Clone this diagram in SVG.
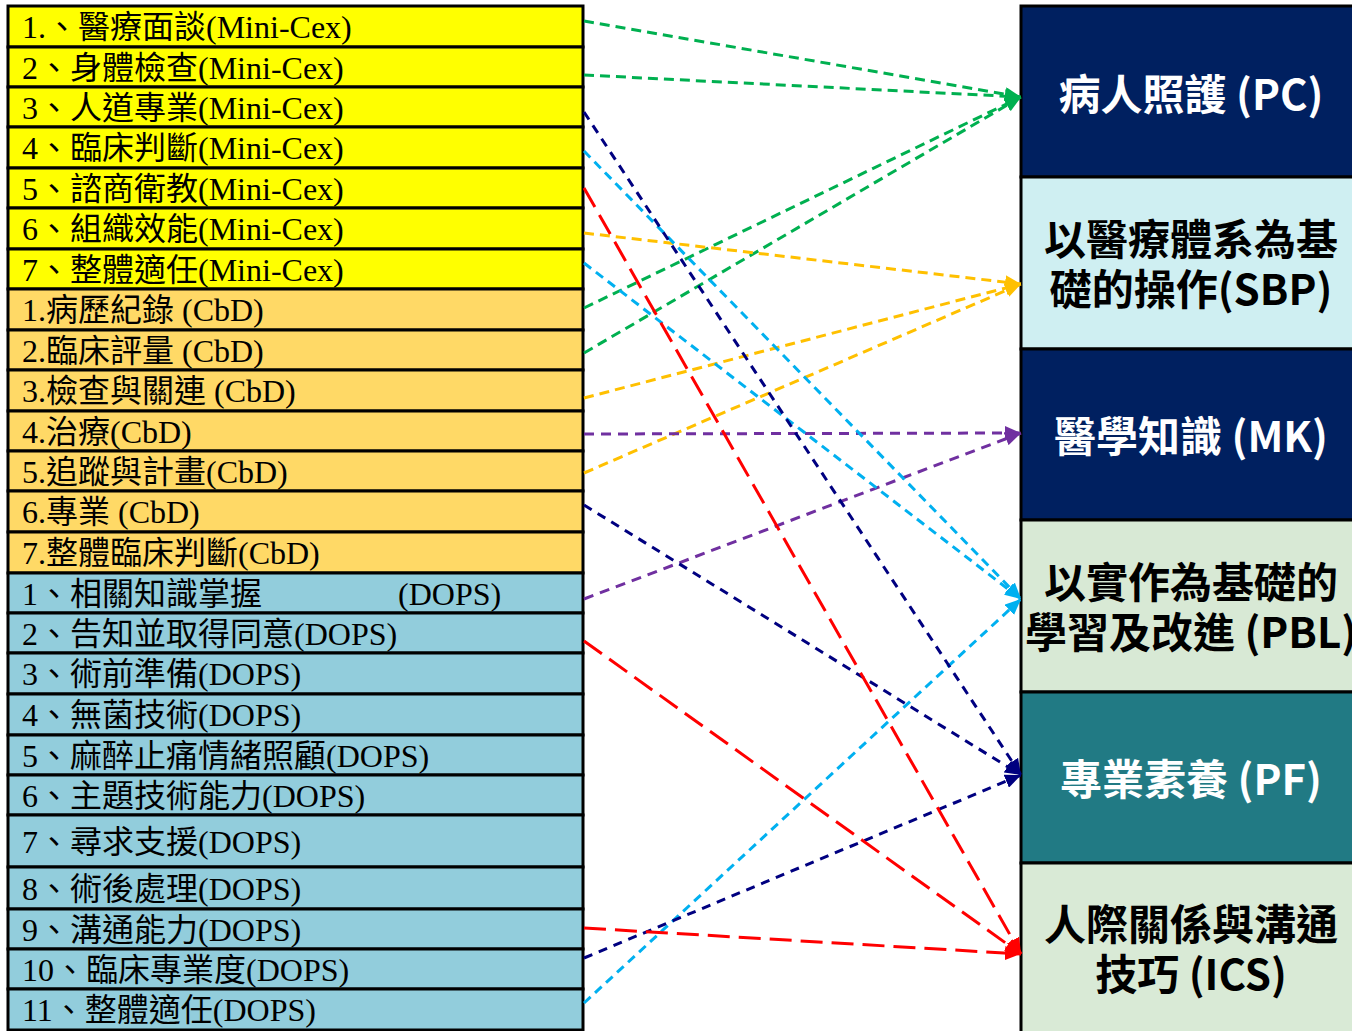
<svg xmlns="http://www.w3.org/2000/svg" width="1352" height="1031" viewBox="0 0 1352 1031">
<defs>
<style>
.row{stroke:#000;stroke-width:3}
.y{fill:#FFFF00}.o{fill:#FFD966}.b{fill:#92CDDC}
.lt{font-family:"Liberation Serif","Noto Sans CJK TC",serif;font-size:32px;fill:#000}
.box{stroke:#000;stroke-width:3}
.rt{font-family:"Noto Sans CJK TC","Noto Sans",sans-serif;font-weight:bold;font-size:42px;text-anchor:middle}
.w{fill:#fff}.k{fill:#000}
.c{fill:none;stroke-width:3}
.g{stroke:#00B050;stroke-dasharray:10 6}
.or{stroke:#FFC000;stroke-dasharray:10 6}
.p{stroke:#7030A0;stroke-dasharray:10 7}
.lb{stroke:#00B0F0;stroke-dasharray:9 6}
.n{stroke:#000080;stroke-dasharray:9 7}
.r{stroke:#FF0000;stroke-dasharray:22 9}
</style>
<marker id="mg" viewBox="0 0 16 14" markerWidth="16" markerHeight="14" refX="16" refY="7" orient="auto" markerUnits="userSpaceOnUse"><path d="M0,0 L16,7 L0,14 z" fill="#00B050"/></marker>
<marker id="mo" viewBox="0 0 16 14" markerWidth="16" markerHeight="14" refX="16" refY="7" orient="auto" markerUnits="userSpaceOnUse"><path d="M0,0 L16,7 L0,14 z" fill="#FFC000"/></marker>
<marker id="mp" viewBox="0 0 16 14" markerWidth="16" markerHeight="14" refX="16" refY="7" orient="auto" markerUnits="userSpaceOnUse"><path d="M0,0 L16,7 L0,14 z" fill="#7030A0"/></marker>
<marker id="mlb" viewBox="0 0 16 14" markerWidth="16" markerHeight="14" refX="16" refY="7" orient="auto" markerUnits="userSpaceOnUse"><path d="M0,0 L16,7 L0,14 z" fill="#00B0F0"/></marker>
<marker id="mn" viewBox="0 0 16 14" markerWidth="16" markerHeight="14" refX="16" refY="7" orient="auto" markerUnits="userSpaceOnUse"><path d="M0,0 L16,7 L0,14 z" fill="#000080"/></marker>
<marker id="mr" viewBox="0 0 16 14" markerWidth="16" markerHeight="14" refX="16" refY="7" orient="auto" markerUnits="userSpaceOnUse"><path d="M0,0 L16,7 L0,14 z" fill="#FF0000"/></marker>
</defs>
<rect width="1352" height="1031" fill="#fff"/>

<g id="minicex">
<g id="m1"><rect class="row y" x="8" y="6" width="575" height="41"/><text class="lt" x="22" y="38">1.、醫療面談(Mini-Cex)</text></g>
<g id="m2"><rect class="row y" x="8" y="47" width="575" height="40"/><text class="lt" x="22" y="79">2、身體檢查(Mini-Cex)</text></g>
<g id="m3"><rect class="row y" x="8" y="87" width="575" height="40"/><text class="lt" x="22" y="119">3、人道專業(Mini-Cex)</text></g>
<g id="m4"><rect class="row y" x="8" y="127" width="575" height="41"/><text class="lt" x="22" y="159">4、臨床判斷(Mini-Cex)</text></g>
<g id="m5"><rect class="row y" x="8" y="168" width="575" height="40"/><text class="lt" x="22" y="200">5、諮商衛教(Mini-Cex)</text></g>
<g id="m6"><rect class="row y" x="8" y="208" width="575" height="41"/><text class="lt" x="22" y="240">6、組織效能(Mini-Cex)</text></g>
<g id="m7"><rect class="row y" x="8" y="249" width="575" height="40"/><text class="lt" x="22" y="281">7、整體適任(Mini-Cex)</text></g>
</g>
<g id="cbd">
<g id="c1"><rect class="row o" x="8" y="289" width="575" height="41"/><text class="lt" x="22" y="321">1.病歷紀錄 (CbD)</text></g>
<g id="c2"><rect class="row o" x="8" y="330" width="575" height="40"/><text class="lt" x="22" y="362">2.臨床評量 (CbD)</text></g>
<g id="c3"><rect class="row o" x="8" y="370" width="575" height="41"/><text class="lt" x="22" y="402">3.檢查與關連 (CbD)</text></g>
<g id="c4"><rect class="row o" x="8" y="411" width="575" height="40"/><text class="lt" x="22" y="443">4.治療(CbD)</text></g>
<g id="c5"><rect class="row o" x="8" y="451" width="575" height="40"/><text class="lt" x="22" y="483">5.追蹤與計畫(CbD)</text></g>
<g id="c6"><rect class="row o" x="8" y="491" width="575" height="41"/><text class="lt" x="22" y="523">6.專業 (CbD)</text></g>
<g id="c7"><rect class="row o" x="8" y="532" width="575" height="41"/><text class="lt" x="22" y="564">7.整體臨床判斷(CbD)</text></g>
</g>
<g id="dops">
<g id="d1"><rect class="row b" x="8" y="573" width="575" height="40"/><text class="lt" x="22" y="605">1、相關知識掌握<tspan x="398">(DOPS)</tspan></text></g>
<g id="d2"><rect class="row b" x="8" y="613" width="575" height="40"/><text class="lt" x="22" y="645">2、告知並取得同意(DOPS)</text></g>
<g id="d3"><rect class="row b" x="8" y="653" width="575" height="41"/><text class="lt" x="22" y="685">3、術前準備(DOPS)</text></g>
<g id="d4"><rect class="row b" x="8" y="694" width="575" height="41"/><text class="lt" x="22" y="726">4、無菌技術(DOPS)</text></g>
<g id="d5"><rect class="row b" x="8" y="735" width="575" height="40"/><text class="lt" x="22" y="767">5、麻醉止痛情緒照顧(DOPS)</text></g>
<g id="d6"><rect class="row b" x="8" y="775" width="575" height="40"/><text class="lt" x="22" y="807">6、主題技術能力(DOPS)</text></g>
<g id="d7"><rect class="row b" x="8" y="815" width="575" height="52"/><text class="lt" x="22" y="853">7、尋求支援(DOPS)</text></g>
<g id="d8"><rect class="row b" x="8" y="867" width="575" height="42"/><text class="lt" x="22" y="900">8、術後處理(DOPS)</text></g>
<g id="d9"><rect class="row b" x="8" y="909" width="575" height="40"/><text class="lt" x="22" y="941">9、溝通能力(DOPS)</text></g>
<g id="d10"><rect class="row b" x="8" y="949" width="575" height="40"/><text class="lt" x="22" y="981">10、臨床專業度(DOPS)</text></g>
<g id="d11"><rect class="row b" x="8" y="989" width="575" height="41"/><text class="lt" x="22" y="1021">11、整體適任(DOPS)</text></g>
</g>

<g id="competencies">
<g id="pc"><rect class="box" x="1021" y="6" width="340" height="171" fill="#002060"/><text class="rt w" x="1191" y="110">病人照護 (PC)</text></g>
<g id="sbp"><rect class="box" x="1021" y="177" width="340" height="172" fill="#CFEFF2"/><text class="rt k" x="1191" y="255">以醫療體系為基<tspan x="1191" dy="50">礎的操作(SBP)</tspan></text></g>
<g id="mk"><rect class="box" x="1021" y="349" width="340" height="171" fill="#002060"/><text class="rt w" x="1191" y="452">醫學知識 (MK)</text></g>
<g id="pbl"><rect class="box" x="1021" y="520" width="340" height="172" fill="#D8E9D5"/><text class="rt k" x="1191" y="598">以實作為基礎的<tspan x="1191" dy="50">學習及改進 (PBL)</tspan></text></g>
<g id="pf"><rect class="box" x="1021" y="692" width="340" height="171" fill="#217A84"/><text class="rt w" x="1191" y="795">專業素養 (PF)</text></g>
<g id="ics"><rect class="box" x="1021" y="863" width="340" height="180" fill="#D9EAD6"/><text class="rt k" x="1191" y="940">人際關係與溝通<tspan x="1191" dy="50">技巧 (ICS)</tspan></text></g>
</g>

<g id="connectors">
<line class="c g" x1="584" y1="21" x2="1021" y2="97" marker-end="url(#mg)"/>
<line class="c g" x1="584" y1="75" x2="1021" y2="97" marker-end="url(#mg)"/>
<line class="c g" x1="584" y1="308" x2="1021" y2="97" marker-end="url(#mg)"/>
<line class="c g" x1="584" y1="353" x2="1021" y2="97" marker-end="url(#mg)"/>
<line class="c or" x1="584" y1="233" x2="1021" y2="284" marker-end="url(#mo)"/>
<line class="c or" x1="584" y1="398" x2="1021" y2="284" marker-end="url(#mo)"/>
<line class="c or" x1="584" y1="473" x2="1021" y2="284" marker-end="url(#mo)"/>
<line class="c p" x1="584" y1="434" x2="1021" y2="433" marker-end="url(#mp)"/>
<line class="c p" x1="584" y1="599" x2="1021" y2="433" marker-end="url(#mp)"/>
<line class="c lb" x1="584" y1="151" x2="1021" y2="599" marker-end="url(#mlb)"/>
<line class="c lb" x1="584" y1="263" x2="1021" y2="599" marker-end="url(#mlb)"/>
<line class="c lb" x1="584" y1="1003" x2="1021" y2="599" marker-end="url(#mlb)"/>
<line class="c n" x1="584" y1="112" x2="1021" y2="775" marker-end="url(#mn)"/>
<line class="c n" x1="584" y1="505" x2="1021" y2="775" marker-end="url(#mn)"/>
<line class="c n" x1="584" y1="958" x2="1021" y2="775" marker-end="url(#mn)"/>
<line class="c r" x1="584" y1="188" x2="1021" y2="954" marker-end="url(#mr)"/>
<line class="c r" x1="584" y1="641" x2="1021" y2="954" marker-end="url(#mr)"/>
<line class="c r" x1="584" y1="928" x2="1021" y2="954" marker-end="url(#mr)"/>
</g>
</svg>
